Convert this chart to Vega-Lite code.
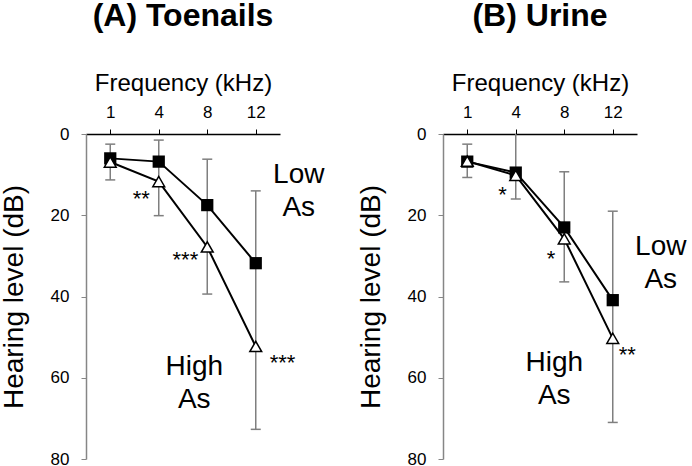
{
  "$schema": "https://vega.github.io/schema/vega-lite/v6.json",
  "padding": 0,
  "background": "white",
  "bounds": "flush",
  "spacing": 163,
  "config": {
    "font": "Liberation Sans",
    "view": {"stroke": null},
    "axis": {"grid": false, "labelFont": "Liberation Sans", "titleFont": "Liberation Sans", "labelFontSize": 17, "labelColor": "black", "titleColor": "black", "titleFontWeight": "normal", "tickSize": 5},
    "title": {"font": "Liberation Sans", "fontSize": 32, "fontWeight": "bold", "color": "black", "offset": 38}
  },
  "datasets": {
    "pts": [
      {"panel": "A", "group": "Low", "freq": 1, "value": 6.0},
      {"panel": "A", "group": "Low", "freq": 4, "value": 6.8},
      {"panel": "A", "group": "Low", "freq": 8, "value": 17.5},
      {"panel": "A", "group": "Low", "freq": 12, "value": 31.8},
      {"panel": "A", "group": "High", "freq": 1, "value": 6.9},
      {"panel": "A", "group": "High", "freq": 4, "value": 11.7},
      {"panel": "A", "group": "High", "freq": 8, "value": 27.8},
      {"panel": "A", "group": "High", "freq": 12, "value": 52.3},
      {"panel": "B", "group": "Low", "freq": 1, "value": 6.8},
      {"panel": "B", "group": "Low", "freq": 4, "value": 9.5},
      {"panel": "B", "group": "Low", "freq": 8, "value": 23.0},
      {"panel": "B", "group": "Low", "freq": 12, "value": 40.9},
      {"panel": "B", "group": "High", "freq": 1, "value": 6.7},
      {"panel": "B", "group": "High", "freq": 4, "value": 10.2},
      {"panel": "B", "group": "High", "freq": 8, "value": 25.8},
      {"panel": "B", "group": "High", "freq": 12, "value": 50.3}
    ],
    "errs": [
      {"panel": "A", "freq": 1, "lo": 2.5, "hi": 11.3},
      {"panel": "A", "freq": 4, "lo": 1.5, "hi": 20.1},
      {"panel": "A", "freq": 8, "lo": 6.2, "hi": 39.4},
      {"panel": "A", "freq": 12, "lo": 14.0, "hi": 72.7},
      {"panel": "B", "freq": 1, "lo": 2.5, "hi": 10.7},
      {"panel": "B", "freq": 4, "lo": -1, "hi": 16.0},
      {"panel": "B", "freq": 8, "lo": 9.3, "hi": 36.4},
      {"panel": "B", "freq": 12, "lo": 19.0, "hi": 71.0}
    ],
    "notes": [
      {"panel": "A", "freq": 4, "value": 14.5, "text": "**", "side": "L"},
      {"panel": "A", "freq": 8, "value": 29.5, "text": "***", "side": "L"},
      {"panel": "A", "freq": 12, "value": 55.0, "text": "***", "side": "R"},
      {"panel": "B", "freq": 4, "value": 13.5, "text": "*", "side": "L"},
      {"panel": "B", "freq": 8, "value": 29.4, "text": "*", "side": "L"},
      {"panel": "B", "freq": 12, "value": 53.0, "text": "**", "side": "R"}
    ],
    "labels": [
      {"panel": "A", "group": "Low", "freq": 12, "value": 10.1, "text": "Low\nAs"},
      {"panel": "A", "group": "High", "freq": 8, "value": 57.4, "text": "High\nAs"},
      {"panel": "B", "group": "Low", "freq": 12, "value": 27.8, "text": "Low\nAs"},
      {"panel": "B", "group": "High", "freq": 8, "value": 56.4, "text": "High\nAs"}
    ]
  },
  "hconcat": [
    {
      "width": 194,
      "height": 325,
      "title": {"text": "(A) Toenails"},
      "encoding": {
        "x": {"field": "freq", "type": "ordinal", "scale": {"type": "point", "padding": 0.5},
          "axis": {"orient": "top", "title": "Frequency (kHz)", "labelAngle": 0, "domainColor": "black", "tickColor": "black", "domainWidth": 1.5, "titleFontSize": 24, "titlePadding": 8, "labelPadding": 8}}
      },
      "layer": [
        {
          "data": {"name": "errs"},
          "transform": [{"filter": "datum.panel === 'A'"}],
          "mark": {"type": "rule", "color": "#7f7f7f", "strokeWidth": 1.5, "clip": true},
          "encoding": {
            "y": {"field": "lo", "type": "quantitative", "title": "Hearing level (dB)", "scale": {"domain": [0, 80], "reverse": true, "nice": false},
              "axis": {"values": [0, 20, 40, 60, 80], "domainColor": "#868686", "tickColor": "#868686", "domainWidth": 1.5, "titleFontSize": 28, "titlePadding": 22, "labelPadding": 12}},
            "y2": {"field": "hi"}
          }
        },
        {
          "data": {"name": "errs"},
          "transform": [{"filter": "datum.panel === 'A'"}],
          "mark": {"type": "tick", "color": "#7f7f7f", "thickness": 1.5, "size": 10, "clip": true, "opacity": 1},
          "encoding": {"y": {"field": "lo", "type": "quantitative", "title": "Hearing level (dB)", "scale": {"domain": [0, 80], "reverse": true, "nice": false}}}
        },
        {
          "data": {"name": "errs"},
          "transform": [{"filter": "datum.panel === 'A'"}],
          "mark": {"type": "tick", "color": "#7f7f7f", "thickness": 1.5, "size": 10, "clip": true, "opacity": 1},
          "encoding": {"y": {"field": "hi", "type": "quantitative", "title": "Hearing level (dB)", "scale": {"domain": [0, 80], "reverse": true, "nice": false}}}
        },
        {
          "data": {"name": "pts"},
          "transform": [{"filter": "datum.panel === 'A'"}],
          "mark": {"type": "line", "color": "black", "strokeWidth": 2},
          "encoding": {
            "y": {"field": "value", "type": "quantitative", "title": "Hearing level (dB)", "scale": {"domain": [0, 80], "reverse": true, "nice": false}},
            "detail": {"field": "group"}
          }
        },
        {
          "data": {"name": "pts"},
          "transform": [{"filter": "datum.panel === 'A' && datum.group === 'Low'"}],
          "mark": {"type": "point", "shape": "square", "filled": true, "color": "black", "size": 150, "opacity": 1},
          "encoding": {"y": {"field": "value", "type": "quantitative", "title": "Hearing level (dB)", "scale": {"domain": [0, 80], "reverse": true, "nice": false}}}
        },
        {
          "data": {"name": "pts"},
          "transform": [{"filter": "datum.panel === 'A' && datum.group === 'High'"}],
          "mark": {"type": "point", "shape": "triangle-up", "filled": true, "fill": "white", "stroke": "black", "strokeWidth": 1.5, "size": 140, "opacity": 1},
          "encoding": {"y": {"field": "value", "type": "quantitative", "title": "Hearing level (dB)", "scale": {"domain": [0, 80], "reverse": true, "nice": false}}}
        },
        {
          "data": {"name": "notes"},
          "transform": [{"filter": "datum.panel === 'A' && datum.side === 'L'"}],
          "mark": {"type": "text", "align": "right", "baseline": "alphabetic", "dx": -9, "dy": 13, "fontSize": 22, "color": "black"},
          "encoding": {"y": {"field": "value", "type": "quantitative", "title": "Hearing level (dB)", "scale": {"domain": [0, 80], "reverse": true, "nice": false}}, "text": {"field": "text"}}
        },
        {
          "data": {"name": "notes"},
          "transform": [{"filter": "datum.panel === 'A' && datum.side === 'R'"}],
          "mark": {"type": "text", "align": "left", "baseline": "alphabetic", "dx": 14, "dy": 13, "fontSize": 22, "color": "black"},
          "encoding": {"y": {"field": "value", "type": "quantitative", "title": "Hearing level (dB)", "scale": {"domain": [0, 80], "reverse": true, "nice": false}}, "text": {"field": "text"}}
        },
        {
          "data": {"name": "labels"},
          "transform": [{"filter": "datum.panel === 'A' && datum.group === 'Low'"}],
          "mark": {"type": "text", "align": "center", "baseline": "middle", "dx": 43, "fontSize": 28, "lineBreak": "\n", "lineHeight": 33, "color": "black"},
          "encoding": {"y": {"field": "value", "type": "quantitative", "title": "Hearing level (dB)", "scale": {"domain": [0, 80], "reverse": true, "nice": false}}, "text": {"field": "text"}}
        },
        {
          "data": {"name": "labels"},
          "transform": [{"filter": "datum.panel === 'A' && datum.group === 'High'"}],
          "mark": {"type": "text", "align": "center", "baseline": "middle", "dx": -13, "fontSize": 28, "lineBreak": "\n", "lineHeight": 33, "color": "black"},
          "encoding": {"y": {"field": "value", "type": "quantitative", "title": "Hearing level (dB)", "scale": {"domain": [0, 80], "reverse": true, "nice": false}}, "text": {"field": "text"}}
        }
      ]
    },
    {
      "width": 194,
      "height": 325,
      "title": {"text": "(B) Urine"},
      "encoding": {
        "x": {"field": "freq", "type": "ordinal", "scale": {"type": "point", "padding": 0.5},
          "axis": {"orient": "top", "title": "Frequency (kHz)", "labelAngle": 0, "domainColor": "black", "tickColor": "black", "domainWidth": 1.5, "titleFontSize": 24, "titlePadding": 8, "labelPadding": 8}}
      },
      "layer": [
        {
          "data": {"name": "errs"},
          "transform": [{"filter": "datum.panel === 'B'"}],
          "mark": {"type": "rule", "color": "#7f7f7f", "strokeWidth": 1.5, "clip": true},
          "encoding": {
            "y": {"field": "lo", "type": "quantitative", "title": "Hearing level (dB)", "scale": {"domain": [0, 80], "reverse": true, "nice": false},
              "axis": {"values": [0, 20, 40, 60, 80], "domainColor": "#868686", "tickColor": "#868686", "domainWidth": 1.5, "titleFontSize": 28, "titlePadding": 22, "labelPadding": 12}},
            "y2": {"field": "hi"}
          }
        },
        {
          "data": {"name": "errs"},
          "transform": [{"filter": "datum.panel === 'B'"}],
          "mark": {"type": "tick", "color": "#7f7f7f", "thickness": 1.5, "size": 10, "clip": true, "opacity": 1},
          "encoding": {"y": {"field": "lo", "type": "quantitative", "title": "Hearing level (dB)", "scale": {"domain": [0, 80], "reverse": true, "nice": false}}}
        },
        {
          "data": {"name": "errs"},
          "transform": [{"filter": "datum.panel === 'B'"}],
          "mark": {"type": "tick", "color": "#7f7f7f", "thickness": 1.5, "size": 10, "clip": true, "opacity": 1},
          "encoding": {"y": {"field": "hi", "type": "quantitative", "title": "Hearing level (dB)", "scale": {"domain": [0, 80], "reverse": true, "nice": false}}}
        },
        {
          "data": {"name": "pts"},
          "transform": [{"filter": "datum.panel === 'B'"}],
          "mark": {"type": "line", "color": "black", "strokeWidth": 2},
          "encoding": {
            "y": {"field": "value", "type": "quantitative", "title": "Hearing level (dB)", "scale": {"domain": [0, 80], "reverse": true, "nice": false}},
            "detail": {"field": "group"}
          }
        },
        {
          "data": {"name": "pts"},
          "transform": [{"filter": "datum.panel === 'B' && datum.group === 'Low'"}],
          "mark": {"type": "point", "shape": "square", "filled": true, "color": "black", "size": 150, "opacity": 1},
          "encoding": {"y": {"field": "value", "type": "quantitative", "title": "Hearing level (dB)", "scale": {"domain": [0, 80], "reverse": true, "nice": false}}}
        },
        {
          "data": {"name": "pts"},
          "transform": [{"filter": "datum.panel === 'B' && datum.group === 'High'"}],
          "mark": {"type": "point", "shape": "triangle-up", "filled": true, "fill": "white", "stroke": "black", "strokeWidth": 1.5, "size": 140, "opacity": 1},
          "encoding": {"y": {"field": "value", "type": "quantitative", "title": "Hearing level (dB)", "scale": {"domain": [0, 80], "reverse": true, "nice": false}}}
        },
        {
          "data": {"name": "notes"},
          "transform": [{"filter": "datum.panel === 'B' && datum.side === 'L'"}],
          "mark": {"type": "text", "align": "right", "baseline": "alphabetic", "dx": -9, "dy": 13, "fontSize": 22, "color": "black"},
          "encoding": {"y": {"field": "value", "type": "quantitative", "title": "Hearing level (dB)", "scale": {"domain": [0, 80], "reverse": true, "nice": false}}, "text": {"field": "text"}}
        },
        {
          "data": {"name": "notes"},
          "transform": [{"filter": "datum.panel === 'B' && datum.side === 'R'"}],
          "mark": {"type": "text", "align": "left", "baseline": "alphabetic", "dx": 6, "dy": 13, "fontSize": 22, "color": "black"},
          "encoding": {"y": {"field": "value", "type": "quantitative", "title": "Hearing level (dB)", "scale": {"domain": [0, 80], "reverse": true, "nice": false}}, "text": {"field": "text"}}
        },
        {
          "data": {"name": "labels"},
          "transform": [{"filter": "datum.panel === 'B' && datum.group === 'Low'"}],
          "mark": {"type": "text", "align": "center", "baseline": "middle", "dx": 48, "fontSize": 28, "lineBreak": "\n", "lineHeight": 33, "color": "black"},
          "encoding": {"y": {"field": "value", "type": "quantitative", "title": "Hearing level (dB)", "scale": {"domain": [0, 80], "reverse": true, "nice": false}}, "text": {"field": "text"}}
        },
        {
          "data": {"name": "labels"},
          "transform": [{"filter": "datum.panel === 'B' && datum.group === 'High'"}],
          "mark": {"type": "text", "align": "center", "baseline": "middle", "dx": -10, "fontSize": 28, "lineBreak": "\n", "lineHeight": 33, "color": "black"},
          "encoding": {"y": {"field": "value", "type": "quantitative", "title": "Hearing level (dB)", "scale": {"domain": [0, 80], "reverse": true, "nice": false}}, "text": {"field": "text"}}
        }
      ]
    }
  ]
}
